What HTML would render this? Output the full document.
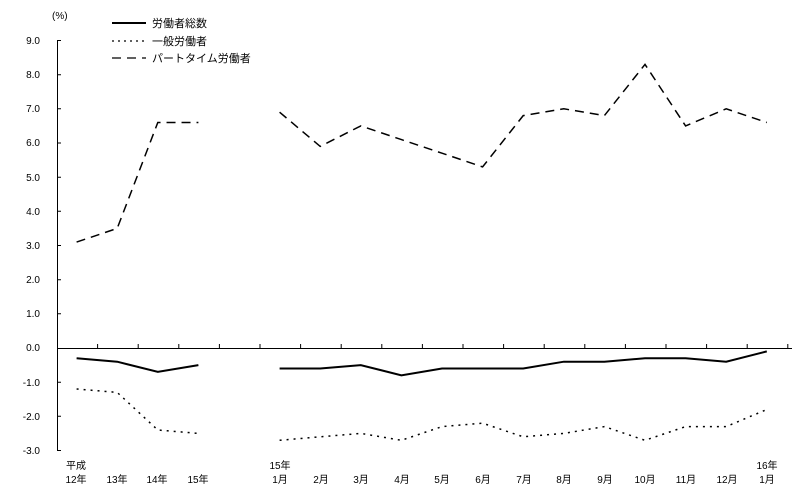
<!DOCTYPE html>
<html><head><meta charset="utf-8"><style>
body{margin:0;background:#fff}
svg{display:block;font-family:"Liberation Sans","Noto Sans CJK JP",sans-serif}
</style></head><body>
<svg width="811" height="502" viewBox="0 0 811 502" xmlns="http://www.w3.org/2000/svg">
<rect width="811" height="502" fill="#fff"/>
<g font-size="10" fill="#000">
<text x="52" y="19">(%)</text>
<g text-anchor="end">
<text x="40" y="44">9.0</text><text x="40" y="78">8.0</text><text x="40" y="112">7.0</text>
<text x="40" y="146">6.0</text><text x="40" y="181">5.0</text><text x="40" y="215">4.0</text>
<text x="40" y="249">3.0</text><text x="40" y="283">2.0</text><text x="40" y="317">1.0</text>
<text x="40" y="351">0.0</text><text x="40" y="386">-1.0</text><text x="40" y="420">-2.0</text>
<text x="40" y="454">-3.0</text>
</g>
<g text-anchor="middle">
<text x="76" y="469">平成</text><text x="76" y="483">12年</text>
<text x="117" y="483">13年</text><text x="157" y="483">14年</text><text x="198" y="483">15年</text>
<text x="280" y="469">15年</text>
<text x="280" y="483">1月</text><text x="321" y="483">2月</text><text x="361" y="483">3月</text>
<text x="402" y="483">4月</text><text x="442" y="483">5月</text><text x="483" y="483">6月</text>
<text x="524" y="483">7月</text><text x="564" y="483">8月</text><text x="605" y="483">9月</text>
<text x="645" y="483">10月</text><text x="686" y="483">11月</text><text x="727" y="483">12月</text>
<text x="767" y="469">16年</text><text x="767" y="483">1月</text>
</g>
<text x="152" y="27" font-size="11">労働者総数</text>
<text x="152" y="45" font-size="11">一般労働者</text>
<text x="152" y="62" font-size="11">パートタイム労働者</text>
</g>
<g stroke="#000" fill="none">
<line x1="112" y1="23" x2="146" y2="23" stroke-width="2"/>
<line x1="112" y1="41" x2="146" y2="41" stroke-width="1.2" stroke-dasharray="2,4"/>
<line x1="112" y1="58" x2="146" y2="58" stroke-width="1.2" stroke-dasharray="9,6"/>
<line x1="57.5" y1="40" x2="57.5" y2="451" stroke-width="1"/>
<path d="M57 40.5h4M57 74.7h4M57 108.8h4M57 143h4M57 177.2h4M57 211.3h4M57 245.5h4M57 279.7h4M57 313.8h4M57 382.2h4M57 416.3h4M57 450.5h4" stroke-width="1"/>
<line x1="57" y1="348.5" x2="792" y2="348.5" stroke-width="1"/>
<path d="M97.6 348v-4M138.2 348v-4M178.8 348v-4M219.4 348v-4M260 348v-4M300.6 348v-4M341.2 348v-4M381.8 348v-4M422.4 348v-4M463 348v-4M503.6 348v-4M544.2 348v-4M584.8 348v-4M625.4 348v-4M666 348v-4M706.6 348v-4M747.2 348v-4M787.8 348v-4" stroke-width="1"/>
<g stroke-width="1.5" stroke-dasharray="9,6">
<polyline points="76.6,242.1 117.2,228.4 157.8,122.5 198.4,122.5"/>
<polyline points="279.6,112.2 320.2,146.4 360.8,125.9 401.4,139.6 442,153.2 482.6,166.9 523.2,115.6 563.8,108.8 604.4,115.6 645,64.4 685.6,125.9 726.2,108.8 766.8,122.5"/>
</g>
<g stroke-width="2">
<polyline points="76.6,358.3 117.2,361.7 157.8,371.9 198.4,365.1"/>
<polyline points="279.6,368.5 320.2,368.5 360.8,365.1 401.4,375.3 442,368.5 482.6,368.5 523.2,368.5 563.8,361.7 604.4,361.7 645,358.3 685.6,358.3 726.2,361.7 766.8,351.4"/>
</g>
<g stroke-width="1.5" stroke-dasharray="2,5">
<polyline points="76.6,389 117.2,392.4 157.8,430 198.4,433.4"/>
<polyline points="279.6,440.3 320.2,436.8 360.8,433.4 401.4,440.3 442,426.6 482.6,423.2 523.2,436.8 563.8,433.4 604.4,426.6 645,440.3 685.6,426.6 726.2,426.6 766.8,409.5"/>
</g>
</g>
</svg>
</body></html>
